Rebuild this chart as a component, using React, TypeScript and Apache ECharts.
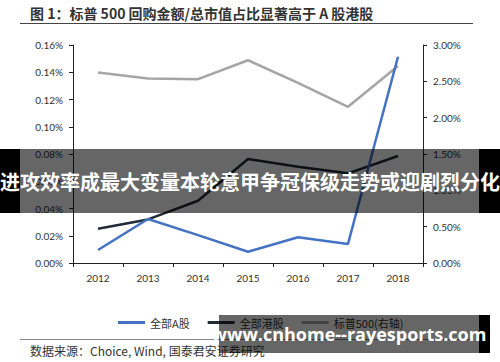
import React, { useEffect, useRef } from "react";
import * as echarts from "echarts";

const years = ["2012", "2013", "2014", "2015", "2016", "2017", "2018"];
const aShares = [0.0095, 0.0323, 0.0205, 0.0083, 0.0189, 0.014, 0.1514];
const hkShares = [0.0252, 0.032, 0.0457, 0.0763, 0.0707, 0.0658, 0.0785];
const sp500 = [2.62, 2.54, 2.53, 2.79, 2.48, 2.15, 2.71];
const leftTicks = { min: 0, max: 0.16, interval: 0.02 };
const rightTicks = { min: 0, max: 3, interval: 0.5 };

const titleText = "图 1：标普 500 回购金额/总市值占比显著高于 A 股港股";
const bannerText = "进攻效率成最大变量本轮意甲争冠保级走势或迎剧烈分化";
const sourceText = "数据来源：Choice, Wind, 国泰君安证券研究";
const watermarkText = "www.cnhome--rayesports.com";

const CJK = '"Noto Sans CJK SC", sans-serif';
const NUM = 'Lato, "Open Sans", sans-serif';

export default function App() {
  const ref = useRef<HTMLDivElement>(null);
  useEffect(() => {
    if (!ref.current) return;
    const chart = echarts.init(ref.current, undefined, { renderer: "svg" });
    const axisLine = { show: true, lineStyle: { color: "#222", width: 1 } };
    chart.setOption({
      animation: false,
      backgroundColor: "#fff",
      grid: { left: 73, right: 77, top: 45, bottom: 99 },
      legend: {
        left: 113,
        top: 312,
        itemWidth: 27,
        itemHeight: 3,
        itemGap: 18,
        icon: "rect",
        textStyle: { fontFamily: CJK, fontSize: 11, color: "#333" },
        data: ["全部A股", "全部港股", "标普500(右轴)"],
      },
      xAxis: {
        type: "category",
        data: years,
        boundaryGap: true,
        axisLine,
        axisTick: { show: true, length: 4, lineStyle: { color: "#222" } },
        axisLabel: { fontFamily: NUM, fontSize: 10, color: "#333", margin: 10 },
      },
      yAxis: [
        {
          type: "value",
          position: "left",
          ...leftTicks,
          axisLine,
          axisTick: { show: true, length: 4, lineStyle: { color: "#222" } },
          splitLine: { show: false },
          axisLabel: {
            fontFamily: NUM,
            fontSize: 10,
            color: "#333",
            margin: 10,
            formatter: (v: number) => v.toFixed(2) + "%",
          },
        },
        {
          type: "value",
          position: "right",
          ...rightTicks,
          axisLine,
          axisTick: { show: true, length: 4, lineStyle: { color: "#222" } },
          splitLine: { show: false },
          axisLabel: {
            fontFamily: NUM,
            fontSize: 10,
            color: "#333",
            margin: 10,
            formatter: (v: number) => v.toFixed(2) + "%",
          },
        },
      ],
      series: [
        {
          name: "全部A股",
          type: "line",
          data: aShares,
          yAxisIndex: 0,
          symbol: "none",
          color: "#4472C4",
          lineStyle: { width: 2.5, color: "#4472C4" },
          z: 4,
        },
        {
          name: "全部港股",
          type: "line",
          data: hkShares,
          yAxisIndex: 0,
          symbol: "none",
          color: "#222B38",
          lineStyle: { width: 2.5, color: "#222B38" },
          z: 3,
        },
        {
          name: "标普500(右轴)",
          type: "line",
          data: sp500,
          yAxisIndex: 1,
          symbol: "none",
          color: "#A5A5A5",
          lineStyle: { width: 2.5, color: "#A5A5A5" },
          z: 2,
        },
      ],
      graphic: [
        {
          type: "text",
          left: 30,
          top: 6,
          style: { text: titleText, fontFamily: CJK, fontSize: 14, fontWeight: "bold", fill: "#333" },
        },
        {
          type: "line",
          shape: { x1: 20, y1: 23.5, x2: 473, y2: 23.5 },
          style: { stroke: "#444", lineWidth: 1 },
        },
        {
          type: "line",
          shape: { x1: 20, y1: 339.5, x2: 473, y2: 339.5 },
          style: { stroke: "#888", lineWidth: 1 },
        },
        {
          type: "text",
          left: 30,
          top: 344,
          style: { text: sourceText, fontFamily: CJK, fontSize: 12, fill: "#333" },
        },
        { type: "rect", z: 100, shape: { x: 0, y: 149, width: 20, height: 64 }, style: { fill: "#000" } },
        { type: "rect", z: 100, shape: { x: 479, y: 149, width: 21, height: 64 }, style: { fill: "#000" } },
        { type: "rect", z: 100, shape: { x: 20, y: 149, width: 459, height: 64 }, style: { fill: "rgba(0,0,0,0.6)" } },
        {
          type: "text",
          z: 101,
          x: 250,
          y: 181,
          style: {
            text: bannerText,
            fontFamily: CJK,
            fontSize: 20,
            fontWeight: "bold",
            fill: "#fff",
            align: "center",
            verticalAlign: "middle",
          },
        },
        { type: "rect", z: 100, shape: { x: 219, y: 315, width: 260, height: 38 }, style: { fill: "rgba(0,0,0,0.6)" } },
        { type: "rect", z: 100, shape: { x: 479, y: 315, width: 11, height: 38 }, style: { fill: "#000" } },
        {
          type: "text",
          z: 101,
          x: 349,
          y: 334,
          style: {
            text: watermarkText,
            fontFamily: '"Open Sans", sans-serif',
            fontSize: 18,
            fontWeight: "bold",
            fill: "#fff",
            align: "center",
            verticalAlign: "middle",
          },
        },
      ],
    });
    return () => chart.dispose();
  }, []);
  return (
    <div
      ref={ref}
      style={{ position: "fixed", left: 0, top: 0, width: 500, height: 362 }}
    />
  );
}
